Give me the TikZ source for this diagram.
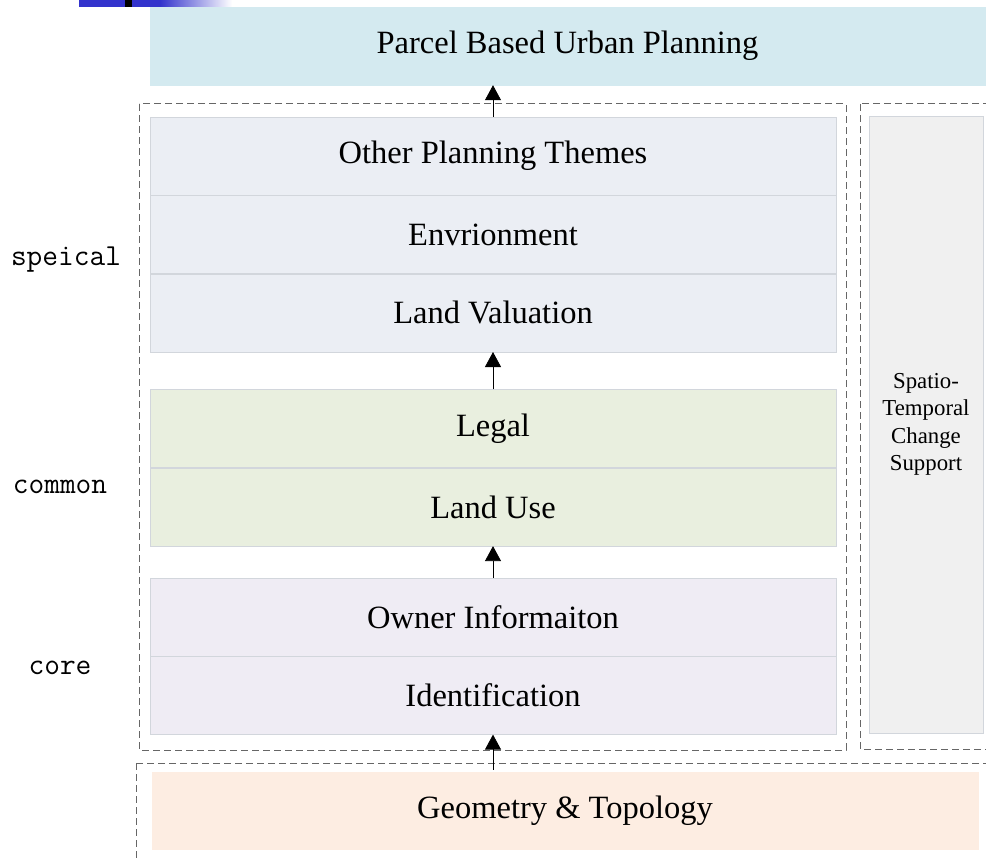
\documentclass[tikz,border=0pt]{standalone}
\usepackage{fontspec}
\setmainfont{Liberation Serif}
\usetikzlibrary{positioning,arrows.meta}
\definecolor{planblue}{HTML}{D4EAF0}
\definecolor{specialfill}{HTML}{EBEEF4}
\definecolor{commonfill}{HTML}{E9EFDF}
\definecolor{corefill}{HTML}{EFECF4}
\definecolor{geomfill}{HTML}{FDEDE2}
\definecolor{spatiofill}{HTML}{F0F0F0}
\definecolor{boxline}{HTML}{D2D6DC}
\definecolor{slideblue}{HTML}{3333CC}
\tikzset{
  layer/.style={draw=boxline, minimum width=686pt, minimum height=78pt, inner sep=0pt,
    font=\fontsize{32.5}{35}\selectfont},
  group/.style={draw=black!60, dashed, dash pattern=on 7pt off 4pt, line width=1pt},
  uparrow/.style={-{Triangle[width=16pt,length=15pt]}, line width=0.8pt},
  levellabel/.style={font=\ttfamily\fontsize{30.5}{32}\selectfont}
}
\begin{document}
\begin{tikzpicture}[x=1pt, y=-1pt]
  \clip (0,0) rectangle (986,859);
  % slide decoration
  \fill[slideblue] (79,0) rectangle (160,7);
  \shade[left color=slideblue, right color=white] (160,0) rectangle (232,7);
  \fill[black] (125,0) rectangle (132,7);

  % dashed groups
  \draw[group] (139,104) rectangle (846,750);
  \draw[group] (860,104) rectangle (995,749);
  \draw[group] (136,763) rectangle (995,870);

  % top
  \node[layer, fill=planblue, draw=planblue, minimum width=835pt] (plan) at (567.5,46) {Parcel Based Urban Planning};

  % special
  \node[layer, fill=specialfill] (other) at (493,156) {Other Planning Themes};
  \node[layer, fill=specialfill, below=0pt of other] (env) {Envrionment};
  \node[layer, fill=specialfill, below=0pt of env] (landval) {Land Valuation};

  % common
  \node[layer, fill=commonfill] (legal) at (493,428.5) {Legal};
  \node[layer, fill=commonfill, below=0pt of legal] (landuse) {Land Use};

  % core
  \node[layer, fill=corefill] (owner) at (493,617) {Owner Informaiton};
  \node[layer, fill=corefill, below=0pt of owner] (ident) {Identification};

  % base
  \node[layer, fill=geomfill, draw=geomfill, minimum width=826pt, minimum height=77pt] (geom) at (565,810.5) {Geometry \& Topology};

  % side
  \node[layer, fill=spatiofill, minimum width=114pt, minimum height=617pt, align=center,
    font=\fontsize{22.8}{27.5}\selectfont] (spatio) at (926,424.5) {Spatio-\\Temporal\\Change\\Support};

  % levels
  \node[levellabel] (speical) at (66,260) {speical};
  \node[levellabel] (common) at (60,487) {common};
  \node[levellabel] (core) at (60,668) {core};

  % arrows
  \draw[uparrow] (geom.north -| ident.south) ++(0,-2) coordinate (geomtop) -- (ident.south);
  \draw[uparrow] (owner.north) -- (landuse.south);
  \draw[uparrow] (legal.north) -- (landval.south);
  \draw[uparrow] (other.north) -- (other.north |- plan.south);
\end{tikzpicture}
\end{document}
